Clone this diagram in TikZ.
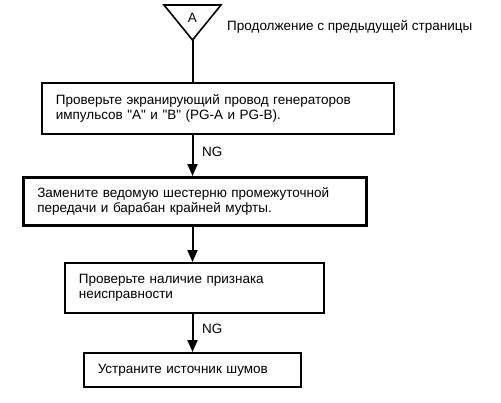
\documentclass[tikz,border=0pt]{standalone}
\usepackage{fontspec}
\newfontfamily\arialf{Liberation Sans}
\usetikzlibrary{arrows.meta}
\begin{document}
\begin{tikzpicture}[x=1pt,y=-1pt,
  box/.style={draw,line width=1.6pt,align=left,inner xsep=14pt,inner ysep=0pt,
    font=\arialf\fontsize{13.5}{15}\selectfont,anchor=north west},
  boxthick/.style={box,line width=2.6pt},
  lbl/.style={font=\arialf\fontsize{13.5}{15}\selectfont,inner sep=0pt},
  arr/.style={line width=2pt,-{Triangle[width=10pt,length=12pt]}},
  ln/.style={line width=2pt}]
\useasboundingbox (0,0) rectangle (501,402);
% triangle connector
\coordinate (tl) at (164,5);
\coordinate (tr) at (221,5);
\coordinate (apex) at (192.5,40);
\draw[line width=1.6pt,line join=miter] (tl) -- (tr) -- (apex) -- cycle;
\node[lbl] (A) at (192.5,17.5) {A};
\node[lbl,anchor=west] (cont) at (227,27) {Продолжение с предыдущей страницы};
% boxes
\node[box,minimum width=352pt,minimum height=51pt,text width=324pt] (b1) at (41,82)
  {Проверьте экранирующий провод генераторов\\импульсов "A" и "B" (PG-A и PG-B).};
\node[boxthick,minimum width=343pt,minimum height=48pt,text width=315pt] (b2) at (22,176)
  {Замените ведомую шестерню промежуточной\\передачи и барабан крайней муфты.};
\node[box,minimum width=259pt,minimum height=50pt,text width=231pt] (b3) at (64,262)
  {Проверьте наличие признака\\неисправности};
\node[box,minimum width=217pt,minimum height=34pt,text width=189pt] (b4) at (83,352)
  {Устраните источник шумов};
% connectors
\draw[ln] (apex) -- (apex |- b1.north);
\draw[arr] (apex |- b1.south) -- (apex |- b2.north);
\draw[arr] (apex |- b2.south) -- (apex |- b3.north);
\draw[arr] (apex |- b3.south) -- (apex |- b4.north);
\node[lbl,anchor=west] (ng1) at (202,152) {NG};
\node[lbl,anchor=west] (ng2) at (202,329) {NG};
\end{tikzpicture}
\end{document}
